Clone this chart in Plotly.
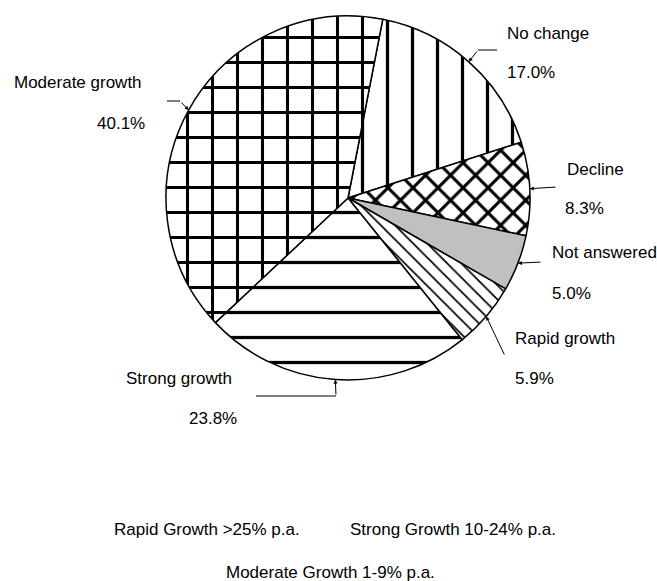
import math
import plotly.graph_objects as go

# Survey answers: expected growth of the business
categories = ["No change", "Decline", "Not answered", "Rapid growth",
              "Strong growth", "Moderate growth"]
shares = [17.0, 8.3, 5.0, 5.9, 23.8, 40.1]
share_labels = ["17.0%", "8.3%", "5.0%", "5.9%", "23.8%", "40.1%"]
footnotes = ["Rapid Growth >25% p.a.", "Strong Growth 10-24% p.a.",
             "Moderate Growth 1-9% p.a."]

W, H = 657, 581
CX, CY, R = 348, 198, 182          # pie centre and radius in pixels
ROTATION = 11                      # first slice starts 11 deg past 12 o'clock
FONT = dict(family="Liberation Sans, Arial, sans-serif", size=17, color="black")

# fill style per slice
shapes_ = ["|", "x", "", "\\", "-", "+"]
sizes = [25, 17.7, 10, 10, 25, 25]
solidity = [0.13, 0.32, 0.3, 0.17, 0.13, 0.23]
fills = ["white", "white", "#c0c0c0", "white", "white", "white"]

# label placement: (name x, name y, anchor, value x), leader polyline tail points
label_layout = {
    "No change":       dict(x=505, y=33,  anchor="left",  vx=505, leader=[(497, 50), (478, 50)]),
    "Decline":         dict(x=565, y=169, anchor="left",  vx=563, leader=[(557, 187)]),
    "Not answered":    dict(x=550, y=253, anchor="left",  vx=550, leader=[(542, 262)]),
    "Rapid growth":    dict(x=513, y=338, anchor="left",  vx=513, leader=[(505, 356)]),
    "Strong growth":   dict(x=234, y=378, anchor="right", vx=239, leader=[(256, 396), (336, 396)]),
    "Moderate growth": dict(x=144, y=83,  anchor="right", vx=147, leader=[(167, 101), (180, 101)]),
}
VALUE_GAP = 40


def px(x):
    return x / W


def py(y):
    return 1 - y / H


fig = go.Figure(go.Pie(
    labels=categories,
    values=shares,
    sort=False,
    direction="clockwise",
    rotation=ROTATION,
    textinfo="none",
    hoverinfo="label+percent",
    domain=dict(x=[px(CX - R), px(CX + R)], y=[py(CY + R), py(CY - R)]),
    marker=dict(
        colors=fills,
        line=dict(color="black", width=1.5),
        pattern=dict(shape=shapes_, size=sizes, solidity=solidity,
                     fgcolor="black", bgcolor="white", fillmode="replace"),
    ),
    showlegend=False,
))

annotations = []
shapes = []
total = sum(shares)
start = ROTATION
for name, val, vlab in zip(categories, shares, share_labels):
    sweep = 360 * val / total
    mid = math.radians(start + sweep / 2)
    start += sweep
    rim_x = CX + R * math.sin(mid)
    rim_y = CY - R * math.cos(mid)

    cfg = label_layout[name]
    pts = cfg["leader"]
    # straight parts of the leader
    for (x0, y0), (x1, y1) in zip(pts[:-1], pts[1:]):
        shapes.append(dict(type="line", xref="paper", yref="paper",
                           x0=px(x0), y0=py(y0), x1=px(x1), y1=py(y1),
                           line=dict(color="black", width=1)))
    tx, ty = pts[-1]
    annotations.append(dict(
        x=px(rim_x), y=py(rim_y), xref="paper", yref="paper",
        ax=tx - rim_x, ay=ty - rim_y, axref="pixel", ayref="pixel",
        text="", showarrow=True, arrowhead=2, arrowsize=0.8,
        arrowwidth=1, arrowcolor="black", standoff=0,
    ))
    annotations.append(dict(
        x=px(cfg["x"]), y=py(cfg["y"]), xref="paper", yref="paper",
        text=name, showarrow=False, xanchor=cfg["anchor"], yanchor="middle",
        font=FONT,
    ))
    annotations.append(dict(
        x=px(cfg["vx"]), y=py(cfg["y"] + VALUE_GAP), xref="paper", yref="paper",
        text=vlab, showarrow=False, xanchor=cfg["anchor"], yanchor="middle",
        font=FONT,
    ))

# growth band definitions under the chart
foot_pos = [(112, 529, "left"), (348, 529, "left"), (330, 572, "center")]
for txt, (x, y, anc) in zip(footnotes, foot_pos):
    annotations.append(dict(x=px(x), y=py(y), xref="paper", yref="paper",
                            text=txt, showarrow=False, xanchor=anc,
                            yanchor="middle", font=FONT))

fig.update_layout(
    width=W, height=H,
    margin=dict(l=0, r=0, t=0, b=0),
    paper_bgcolor="white", plot_bgcolor="white",
    annotations=annotations, shapes=shapes,
    font=FONT,
)

fig.write_html("out.html")
